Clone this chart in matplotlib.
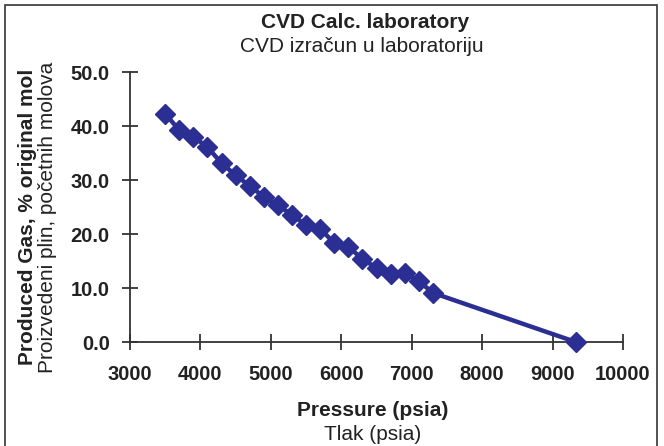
import matplotlib
matplotlib.use("Agg")
from matplotlib import pyplot as plt
from matplotlib.patches import Rectangle

plt.rcParams['font.family'] = ['Liberation Sans', 'DejaVu Sans']

# CVD data
pressure = [3500, 3700, 3900, 4100, 4300, 4500, 4700, 4900, 5100, 5300, 5500,
            5700, 5900, 6100, 6300, 6500, 6700, 6900, 7100, 7300, 9330]
produced_gas = [42.3, 39.2, 38.0, 36.1, 33.1, 30.9, 28.9, 26.9, 25.4, 23.5, 21.7,
                21.0, 18.3, 17.6, 15.4, 13.7, 12.6, 12.8, 11.3, 9.1, 0.0]

x_ticks = [3000, 4000, 5000, 6000, 7000, 8000, 9000, 10000]
y_ticks = [0, 10, 20, 30, 40, 50]

color = '#2B2E92'
txt = '#222222'

fig = plt.figure(figsize=(6.64, 4.46), dpi=100)
ax = fig.add_axes([130 / 664, 1 - 342 / 446, 493 / 664, 270 / 446])

ax.plot(pressure, produced_gas, color=color, lw=3.2, marker='D', ms=10,
        markeredgecolor=color, clip_on=False, zorder=3)

ax.set_xlim(3000, 10000)
ax.set_ylim(0, 50)
ax.set_xticks(x_ticks)
ax.set_yticks(y_ticks)
ax.set_yticklabels(['%.1f' % v for v in y_ticks])
for s in ['top', 'right']:
    ax.spines[s].set_visible(False)
for s in ['left', 'bottom']:
    ax.spines[s].set_color('#333333')
    ax.spines[s].set_linewidth(1.3)
ax.tick_params(direction='inout', length=11, width=1.3, color='#333333',
               labelsize=14.5)
ax.tick_params(axis='x', pad=11)
ax.tick_params(axis='y', pad=9)
for lbl in ax.get_xticklabels() + ax.get_yticklabels():
    lbl.set_fontweight('bold')
    lbl.set_color(txt)

fig.text(365 / 664, 1 - 22 / 446, 'CVD Calc. laboratory', ha='center', va='center',
         fontsize=15, fontweight='bold', color=txt)
fig.text(362 / 664, 1 - 46 / 446, 'CVD izračun u laboratoriju', ha='center', va='center',
         fontsize=15, color=txt)

fig.text(373 / 664, 1 - 411 / 446, 'Pressure (psia)', ha='center', va='center',
         fontsize=15, fontweight='bold', color=txt)
fig.text(373 / 664, 1 - 435 / 446, 'Tlak (psia)', ha='center', va='center',
         fontsize=15, color=txt)

fig.text(28 / 664, 1 - 217 / 446, 'Produced Gas, % original mol', ha='center', va='center',
         rotation=90, fontsize=15, fontweight='bold', color=txt)
fig.text(48 / 664, 1 - 217 / 446, 'Proizvedeni plin, početnih molova', ha='center', va='center',
         rotation=90, fontsize=15, color=txt)

fig.patches.append(Rectangle((5 / 664, -0.05), 652 / 664, 1.05 - 5 / 446,
                             transform=fig.transFigure, fill=False,
                             edgecolor='#333333', lw=1.2))

fig.savefig('out.png', dpi=100)
